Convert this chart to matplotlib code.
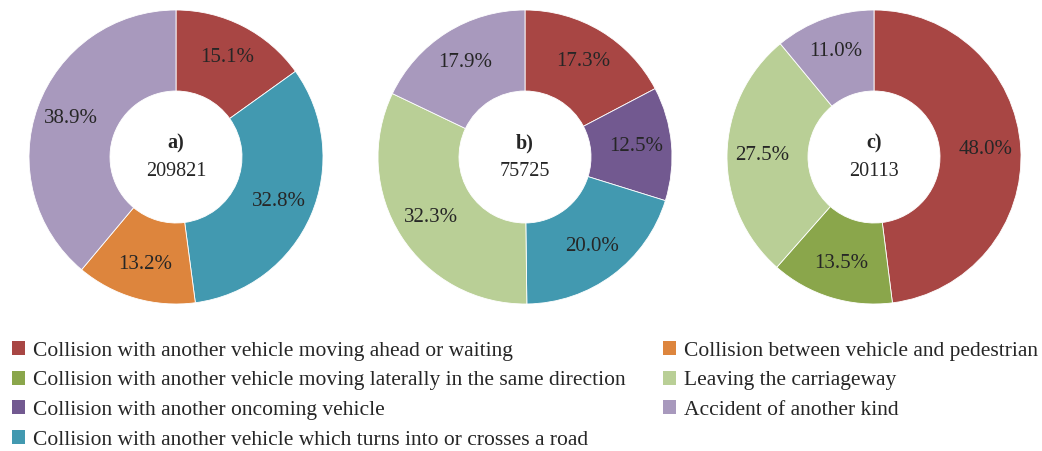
import matplotlib
matplotlib.use("Agg")
import matplotlib.pyplot as plt
from matplotlib.patches import Patch

plt.rcParams['font.family'] = ['Liberation Serif', 'DejaVu Serif']

categories = [
    "Collision with another vehicle moving ahead or waiting",
    "Collision with another vehicle moving laterally in the same direction",
    "Collision with another oncoming vehicle",
    "Collision with another vehicle which turns into or crosses a road",
    "Collision between vehicle and pedestrian",
    "Leaving the carriageway",
    "Accident of another kind",
]
colors = {
    categories[0]: "#A84644",
    categories[1]: "#8AA64B",
    categories[2]: "#725990",
    categories[3]: "#4299B0",
    categories[4]: "#DD853D",
    categories[5]: "#B9CF96",
    categories[6]: "#A899BD",
}

# chart a
a_cats = [categories[0], categories[3], categories[4], categories[6]]
a_vals = [15.1, 32.8, 13.2, 38.9]
# chart b
b_cats = [categories[0], categories[2], categories[3], categories[5], categories[6]]
b_vals = [17.3, 12.5, 20.0, 32.3, 17.9]
# chart c
c_cats = [categories[0], categories[1], categories[5], categories[6]]
c_vals = [48.0, 13.5, 27.5, 11.0]

panel_labels = ["a)", "b)", "c)"]
totals = ["209821", "75725", "20113"]

W, H = 1042, 451
fig = plt.figure(figsize=(W / 100, H / 100), dpi=100)

centers_x = [176, 525, 874]
cy = 157
R = 147
inner = 66 / 147

for cx, cats, vals, lab, tot in zip(centers_x, [a_cats, b_cats, c_cats],
                                    [a_vals, b_vals, c_vals], panel_labels, totals):
    ax = fig.add_axes([(cx - R) / W, (H - cy - R) / H, 2 * R / W, 2 * R / H])
    ax.pie(vals, colors=[colors[c] for c in cats], startangle=90, counterclock=False,
           radius=1, wedgeprops=dict(width=1 - inner, edgecolor='white', linewidth=0.6),
           autopct=lambda p: f"{p:.1f}%", pctdistance=0.76,
           textprops=dict(fontsize=15, color='#262626'))
    ax.set_xlim(-1, 1)
    ax.set_ylim(-1, 1)
    ax.set_aspect('equal')
    ax.axis('off')
    ax.text(0, 0.095, lab, ha='center', va='center', fontsize=14.5, fontweight='bold', color='#262626')
    ax.text(0, -0.1, tot, ha='center', va='center', fontsize=14.5, color='#262626')

left_items = categories[:4]
right_items = categories[4:]

def make_legend(items, x):
    handles = [Patch(facecolor=colors[c], edgecolor='none') for c in items]
    leg = fig.legend(handles, items, loc='upper left', bbox_to_anchor=(x / W, 1 - 341 / H),
                     frameon=False, fontsize=15.5, handlelength=0.62, handleheight=0.62,
                     handletextpad=0.35, labelspacing=0.47, borderaxespad=0, borderpad=0)
    for t in leg.get_texts():
        t.set_color('#262626')
    return leg

make_legend(left_items, 12)
make_legend(right_items, 663)

fig.savefig("out.png", dpi=100)
